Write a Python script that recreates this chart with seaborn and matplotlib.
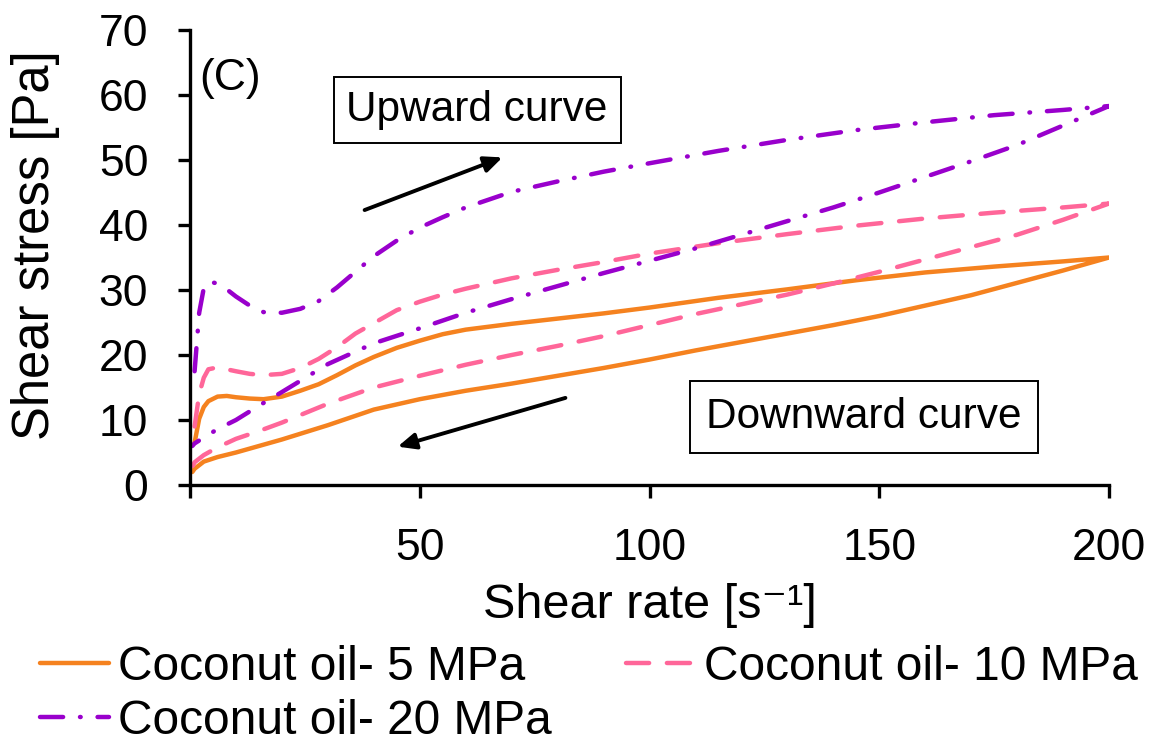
import matplotlib
matplotlib.use("Agg")
import matplotlib.pyplot as plt
import seaborn as sns
import pandas as pd

# Shear rate sweeps (s^-1): ramp up, then ramp down
rate_up = [1, 2, 3, 4, 6, 8, 10, 13, 16, 20, 24, 28, 32, 36, 40, 45, 50, 55, 60,
           70, 80, 90, 100, 115, 130, 145, 160, 175, 190, 200]
rate_down = [200, 190, 180, 170, 160, 150, 140, 130, 120, 110, 100, 90, 80, 70,
             60, 50, 40, 30, 20, 15, 10, 6, 3, 1, 0.5]

# Shear stress (Pa), coconut oil pressed at 5 MPa
stress_5_up = [6.5, 10.2, 12.0, 12.9, 13.6, 13.7, 13.5, 13.3, 13.2, 13.6, 14.5, 15.5,
               16.9, 18.4, 19.7, 21.1, 22.2, 23.2, 23.9, 24.8, 25.6, 26.4, 27.3, 28.8,
               30.1, 31.5, 32.7, 33.6, 34.4, 35.0]
stress_5_down = [35.0, 33.0, 31.1, 29.2, 27.6, 26.0, 24.6, 23.3, 22.0, 20.7, 19.3, 18.0,
                 16.8, 15.6, 14.5, 13.2, 11.6, 9.2, 7.0, 6.0, 5.0, 4.3, 3.6, 2.5, 2.0]

# 10 MPa
stress_10_up = [9.0, 14.0, 16.5, 17.8, 18.1, 17.8, 17.5, 17.1, 16.9, 17.1, 18.0, 19.4,
                21.2, 23.3, 24.9, 26.9, 28.2, 29.3, 30.2, 31.8, 33.1, 34.3, 35.6, 37.2,
                38.6, 39.9, 41.0, 41.9, 42.7, 43.3]
stress_10_down = [43.3, 40.8, 38.5, 36.6, 34.7, 32.8, 31.0, 29.3, 27.8, 26.3, 24.6, 22.9,
                  21.4, 20.0, 18.5, 16.8, 15.0, 12.5, 9.6, 8.3, 7.1, 5.8, 4.6, 3.5, 2.8]

# 20 MPa
stress_20_up = [17.5, 26.5, 30.3, 31.3, 31.0, 30.1, 29.0, 27.6, 26.6, 26.5, 27.1, 28.3,
                30.4, 32.8, 35.2, 37.6, 39.6, 41.2, 42.7, 45.1, 46.7, 48.2, 49.5, 51.4,
                53.1, 54.6, 55.8, 56.9, 57.7, 58.3]
stress_20_down = [58.3, 55.3, 52.3, 49.8, 47.4, 45.0, 42.7, 40.6, 38.5, 36.4, 34.5, 32.6,
                  30.6, 28.6, 26.5, 24.1, 21.8, 18.6, 14.3, 12.2, 10.0, 8.6, 7.3, 6.4, 6.0]

series_names = ["Coconut oil- 5 MPa", "Coconut oil- 10 MPa", "Coconut oil- 20 MPa"]
series_up = [stress_5_up, stress_10_up, stress_20_up]
series_down = [stress_5_down, stress_10_down, stress_20_down]
colors = ["#F5821F", "#FF6699", "#9900CC"]
styles = ["-", (0, (5.2, 4.0)), (0, (5.2, 3.8, 0.15, 3.8))]

frames = []
for name, up, down in zip(series_names, series_up, series_down):
    rates = rate_up + rate_down
    vals = up + down
    frames.append(pd.DataFrame({"rate": rates, "stress": vals, "series": name,
                                "step": range(len(rates))}))
df = pd.concat(frames, ignore_index=True)

sns.set_theme(style="white")
plt.rcParams["font.family"] = ["Liberation Sans", "DejaVu Sans"]
plt.rcParams["text.color"] = "black"

fig = plt.figure(figsize=(11.61, 7.45), dpi=100)
ax = fig.add_axes([190 / 1161, 1 - 485 / 745, (1109 - 190) / 1161, (485 - 30) / 745])

handles = []
for name, col, ls in zip(series_names, colors, styles):
    sub = df[df["series"] == name].sort_values("step")
    sns.lineplot(data=sub, x="rate", y="stress", sort=False, estimator=None,
                 color=col, linewidth=3.2, linestyle=ls, ax=ax, legend=False)
    line = ax.lines[-1]
    line.set_dash_capstyle("round")
    line.set_solid_capstyle("round")
    line.set_solid_joinstyle("round")
    handles.append(line)

ax.set_xlim(0, 200)
ax.set_ylim(0, 70)
ax.set_xticks([0, 50, 100, 150, 200])
ax.set_xticklabels(["", "50", "100", "150", "200"])
ax.set_yticks(range(0, 71, 10))

for side in ["top", "right"]:
    ax.spines[side].set_visible(False)
for side in ["left", "bottom"]:
    ax.spines[side].set_color("black")
    ax.spines[side].set_linewidth(2.4)

ax.tick_params(axis="both", which="major", direction="out", length=9, width=2.4,
               color="black", labelsize=32, labelcolor="black")
ax.tick_params(axis="y", pad=21)
ax.tick_params(axis="x", pad=22)
ax.tick_params(axis="both", left=True, bottom=True)

ax.set_xlabel("Shear rate [s\u207b\u00b9]", fontsize=35, color="black", labelpad=10)
ax.set_ylabel("Shear stress [Pa]", fontsize=36.5, color="black")
ax.yaxis.set_label_coords(-0.1415, 0.527)

ax.text(2, 62.5, "(C)", fontsize=32, ha="left", va="center", color="black")

box = dict(boxstyle="square,pad=0.3", facecolor="white", edgecolor="black", linewidth=1.4)
ax.text(62.5, 57.7, "Upward curve", fontsize=30.5, ha="center", va="center",
        color="black", bbox=box)
ax.text(146.7, 10.5, "Downward curve", fontsize=30.5, ha="center", va="center",
        color="black", bbox=dict(boxstyle="square,pad=0.38", facecolor="white",
                                 edgecolor="black", linewidth=1.4))

arrow = dict(arrowstyle="-|>,head_length=0.9,head_width=0.4", color="black", lw=2.8,
             shrinkA=0, shrinkB=0)
ax.annotate("", xy=(68.0, 50.4), xytext=(38.0, 42.3), arrowprops=arrow)
ax.annotate("", xy=(45.2, 5.9), xytext=(81.7, 13.4), arrowprops=arrow)

# row-wise order: 5 MPa and 10 MPa on the first row, 20 MPa below
order = [0, 2, 1]
fig.legend([handles[i] for i in order], [series_names[i] for i in order],
           loc="upper left", bbox_to_anchor=(40 / 1161, 1 - 645 / 745),
           ncol=2, frameon=False, fontsize=34.5, labelcolor="black",
           handlelength=1.45, handletextpad=0.18, columnspacing=1.55,
           labelspacing=0.18, borderaxespad=0, borderpad=0)

fig.savefig("out.png", dpi=100, facecolor="white")
